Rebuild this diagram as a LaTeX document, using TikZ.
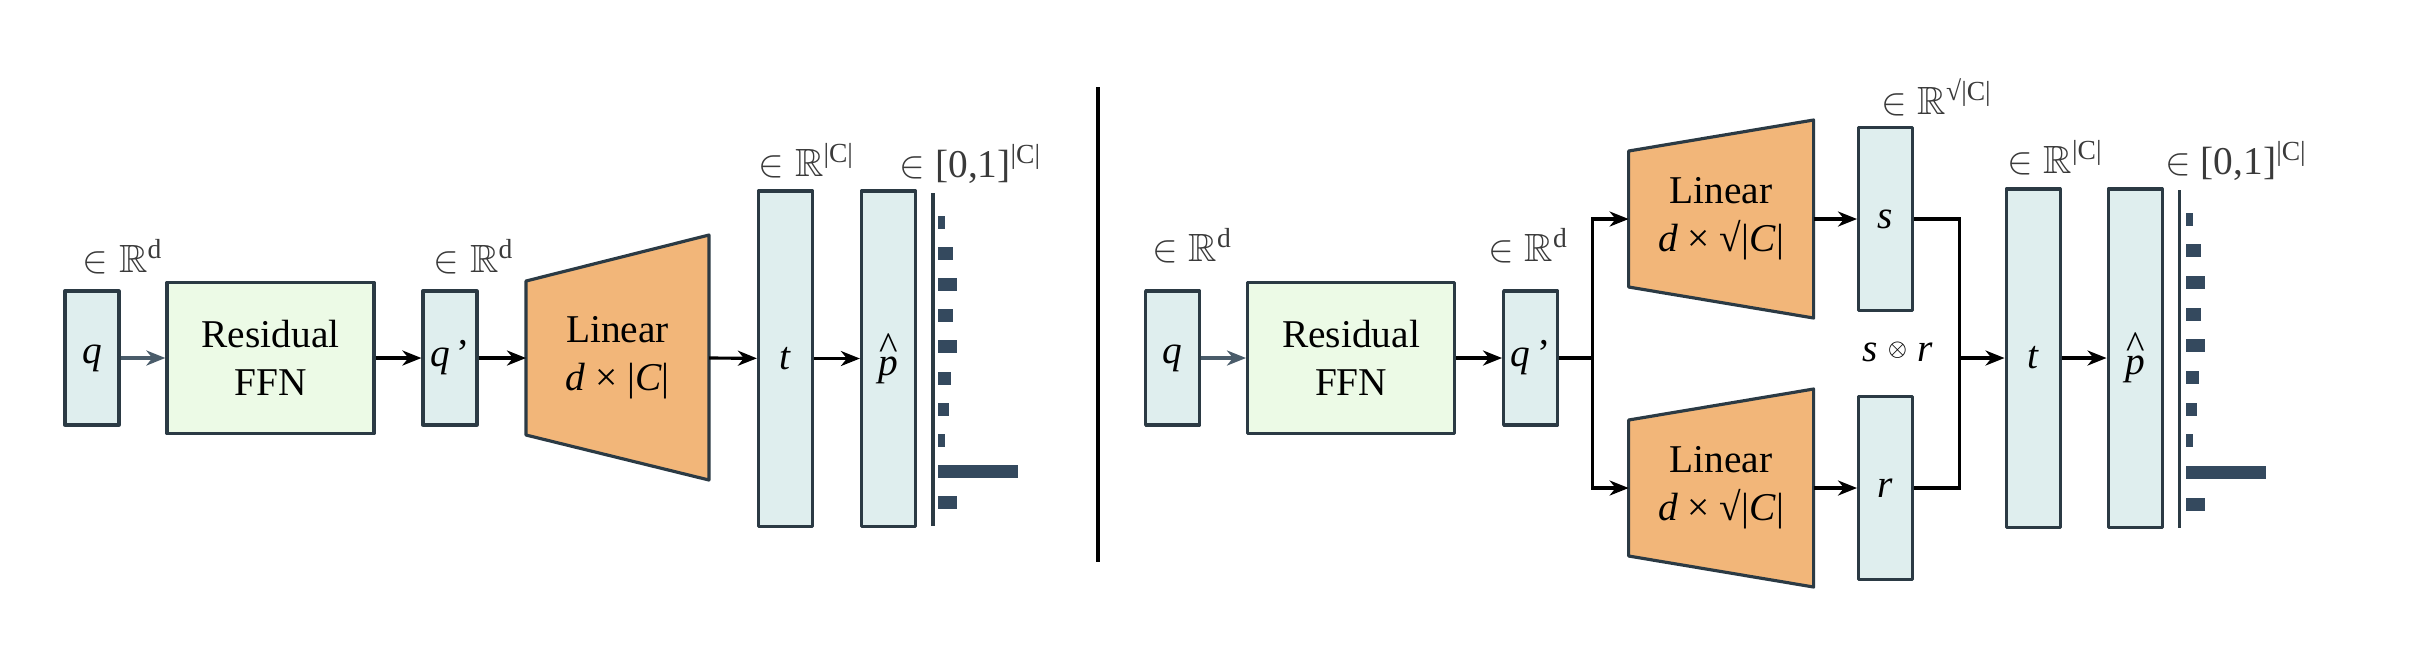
\documentclass[tikz,border=0pt]{standalone}
\usepackage{amsmath,amssymb}
\usepackage{fontspec}
\IfFontExistsTF{LiberationSerif-Regular.ttf}
	{\setmainfont{LiberationSerif}[Extension=.ttf, UprightFont=*-Regular, ItalicFont=*-Italic, BoldFont=*-Bold, BoldItalicFont=*-BoldItalic]}
	{\setmainfont{Liberation Serif}}
\usetikzlibrary{arrows.meta}

\definecolor{edgecol}{HTML}{2B3A44}
\definecolor{vecfill}{HTML}{DFEEEE}
\definecolor{ffnfill}{HTML}{ECFAE6}
\definecolor{linfill}{HTML}{F2B679}
\definecolor{barcol}{HTML}{34495E}
\definecolor{dimcol}{HTML}{3A3A3A}
\definecolor{inarrow}{HTML}{4A5C6A}

\newcommand{\pHat}{\textit{p}\llap{\raisebox{0.9ex}{\textasciicircum}}}

\begin{document}
\begin{tikzpicture}[x=0.01cm, y=-0.01cm,
	every node/.style={font=\fontsize{11.2}{13.7}\selectfont},
	>={Stealth[length=1.9mm, width=1.5mm, inset=0.6mm]},
	vec/.style={draw=edgecol, fill=vecfill, line width=0.9pt, line join=round, inner sep=0pt, minimum width=0.54cm},
	ffn/.style={draw=edgecol, fill=ffnfill, line width=0.9pt, line join=round, align=center, minimum width=2.07cm, minimum height=1.51cm},
	lin/.style={draw=edgecol, fill=linfill, line width=0.9pt, line join=round},
	dim/.style={text=dimcol, anchor=base west, inner sep=0pt},
	flow/.style={->, line width=0.9pt}]
	\useasboundingbox (0,0) rectangle (2430,650);
	\begin{scope}
		\node[vec, minimum height=1.34cm] (qL) at (92,358) {\textit{q}};
		\node[ffn] (ffnL) at (270.5,358) {Residual\\FFN};
		\node[vec, minimum height=1.34cm] (qpL) at (450,358) {\textit{q}\,’};
		\draw[lin] (526,281) -- (709,235) -- (709,480) -- (526,435) -- cycle;
		\coordinate (linLin) at (526,358);
		\coordinate (linLout) at (709,358);
		\node[align=center] (linL) at (617.5,358) {Linear\\\textit{d} × |\textit{C}|};
		\node[vec, minimum height=3.35cm] (tL) at (785.5,358.5) {\textit{t}};
		\node[vec, minimum height=3.35cm] (pL) at (888.5,358.5) {\pHat};
		\draw[line width=0.9pt, edgecol] (933,193) -- (933,526);
		\foreach \w [count=\i from 0] in {7,15,19,15,19,13,11,7,80,19}
			\fill[barcol] (938,{215.5+31.2*\i}) rectangle ++(\w,13);
		\draw[flow, inarrow] (qL) -- (ffnL);
		\draw[flow] (ffnL) -- (qpL);
		\draw[flow] (qpL) -- (linLin);
		\draw[flow] (linLout) -- (tL);
		\draw[flow] (tL) -- (pL);
		\node[dim] (dqL) at (82,272) {$\in\mathbb{R}^{\text{d}}$};
		\node[dim] (dqpL) at (433,272) {$\in\mathbb{R}^{\text{d}}$};
		\node[dim] (dtL) at (758,176) {$\in\mathbb{R}^{\text{|C|}}$};
		\node[dim] (dpL) at (899,177) {$\in$\ [0,1]$^{\text{|C|}}$};
	\end{scope}
	\draw[line width=0.9pt] (1098,87) -- (1098,562);
	\begin{scope}[xshift=10.8cm]
		\node[vec, minimum height=1.34cm] (qR) at (92,358) {\textit{q}};
		\node[ffn] (ffnR) at (270.5,358) {Residual\\FFN};
		\node[vec, minimum height=1.34cm] (qpR) at (450,358) {\textit{q}\,’};
		\coordinate (split) at (512,358);
		\draw[lin] (548,151) -- (733,120) -- (733,318) -- (548,287) -- cycle;
		\coordinate (linSin) at (548,219);
		\coordinate (linSout) at (733,219);
		\node[align=center] (linS) at (640.5,219) {Linear\\\textit{d} × √|\textit{C}|};
		\draw[lin] (548,420) -- (733,389) -- (733,587) -- (548,556) -- cycle;
		\coordinate (linRin) at (548,488);
		\coordinate (linRout) at (733,488);
		\node[align=center] (linR) at (640.5,488) {Linear\\\textit{d} × √|\textit{C}|};
		\node[vec, minimum height=1.83cm] (s) at (805,219) {\textit{s}};
		\node[vec, minimum height=1.83cm] (r) at (805,488) {\textit{r}};
		\coordinate (merge) at (879,358);
		\node[anchor=base] (sr) at (817,361) {\textit{s} \raisebox{1.7pt}{$\scriptscriptstyle\otimes$} \textit{r}};
		\node[vec, minimum height=3.38cm] (tR) at (952.5,358) {\textit{t}};
		\node[vec, minimum height=3.38cm] (pR) at (1054.5,358) {\pHat};
		\draw[line width=0.9pt, edgecol] (1099,190) -- (1099,528);
		\foreach \w [count=\i from 0] in {7,15,19,15,19,13,11,7,80,19}
			\fill[barcol] (1105,{212.5+31.7*\i}) rectangle ++(\w,13);
		\draw[flow, inarrow] (qR) -- (ffnR);
		\draw[flow] (ffnR) -- (qpR);
		\draw[line width=0.9pt] (qpR.east) -- (split);
		\draw[flow] (split) |- (linSin);
		\draw[flow] (split) |- (linRin);
		\draw[flow] (linSout) -- (s);
		\draw[flow] (linRout) -- (r);
		\draw[line width=0.9pt] (s.east) -| (merge) |- (r.east);
		\draw[flow] (merge) -- (tR);
		\draw[flow] (tR) -- (pR);
		\node[dim] (dqR) at (71,261) {$\in\mathbb{R}^{\text{d}}$};
		\node[dim] (dqpR) at (407,261) {$\in\mathbb{R}^{\text{d}}$};
		\node[dim] (dsR) at (800,114) {$\in\mathbb{R}^{\text{√|C|}}$};
		\node[dim] (dtR) at (926,173) {$\in\mathbb{R}^{\text{|C|}}$};
		\node[dim] (dpR) at (1084,174) {$\in$\ [0,1]$^{\text{|C|}}$};
	\end{scope}
\end{tikzpicture}
\end{document}
